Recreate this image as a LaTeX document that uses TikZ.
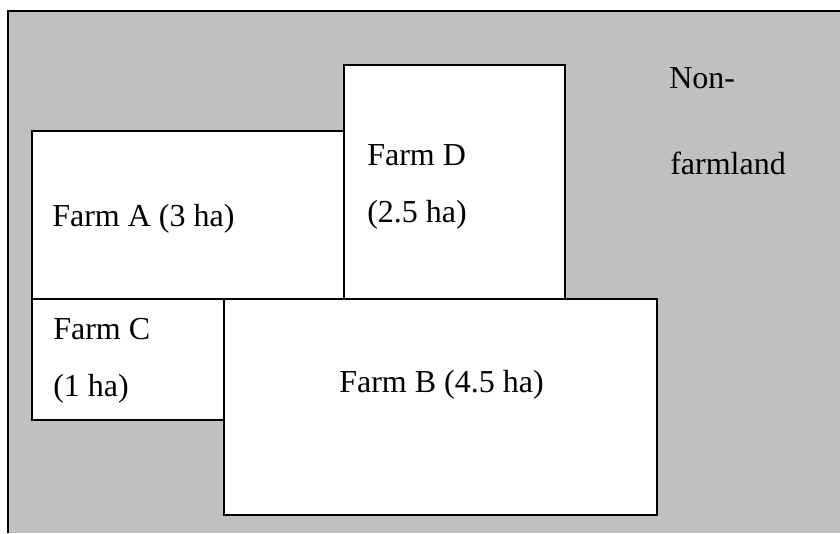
\documentclass[tikz,border=0pt]{standalone}
\usepackage{fontspec}
\setmainfont{Liberation Serif}
\definecolor{bggray}{RGB}{192,192,192}
\begin{document}
\begin{tikzpicture}[x=0.75pt,y=-0.75pt,
  farm/.style={draw=black,fill=white,line width=1.6pt},
  lbl/.style={anchor=base west,inner sep=0pt,font=\fontsize{24}{28}\selectfont}]
\useasboundingbox (0,0) rectangle (840,533);
\fill[bggray] (8,11) rectangle (840,533);
\draw[line width=1.6pt] (8,533) -- (8,11) -- (840,11);
\filldraw[farm] (32,131) rectangle (344,299);
\filldraw[farm] (344,65) rectangle (565,299);
\filldraw[farm] (32,299) rectangle (224,420);
\filldraw[farm] (224,299) rectangle (657,515);
\node[lbl] (na) at (52,226) {Farm A (3 ha)};
\node[lbl] (nd1) at (367,165) {Farm D};
\node[lbl] (nd2) at (367,222) {(2.5 ha)};
\node[lbl] (nc1) at (53,339) {Farm C};
\node[lbl] (nc2) at (53,396) {(1 ha)};
\node[lbl] (nb) at (339,392) {Farm B (4.5 ha)};
\node[lbl] (nn1) at (669,88) {Non-};
\node[lbl] (nn2) at (670,174) {farmland};
\end{tikzpicture}
\end{document}
